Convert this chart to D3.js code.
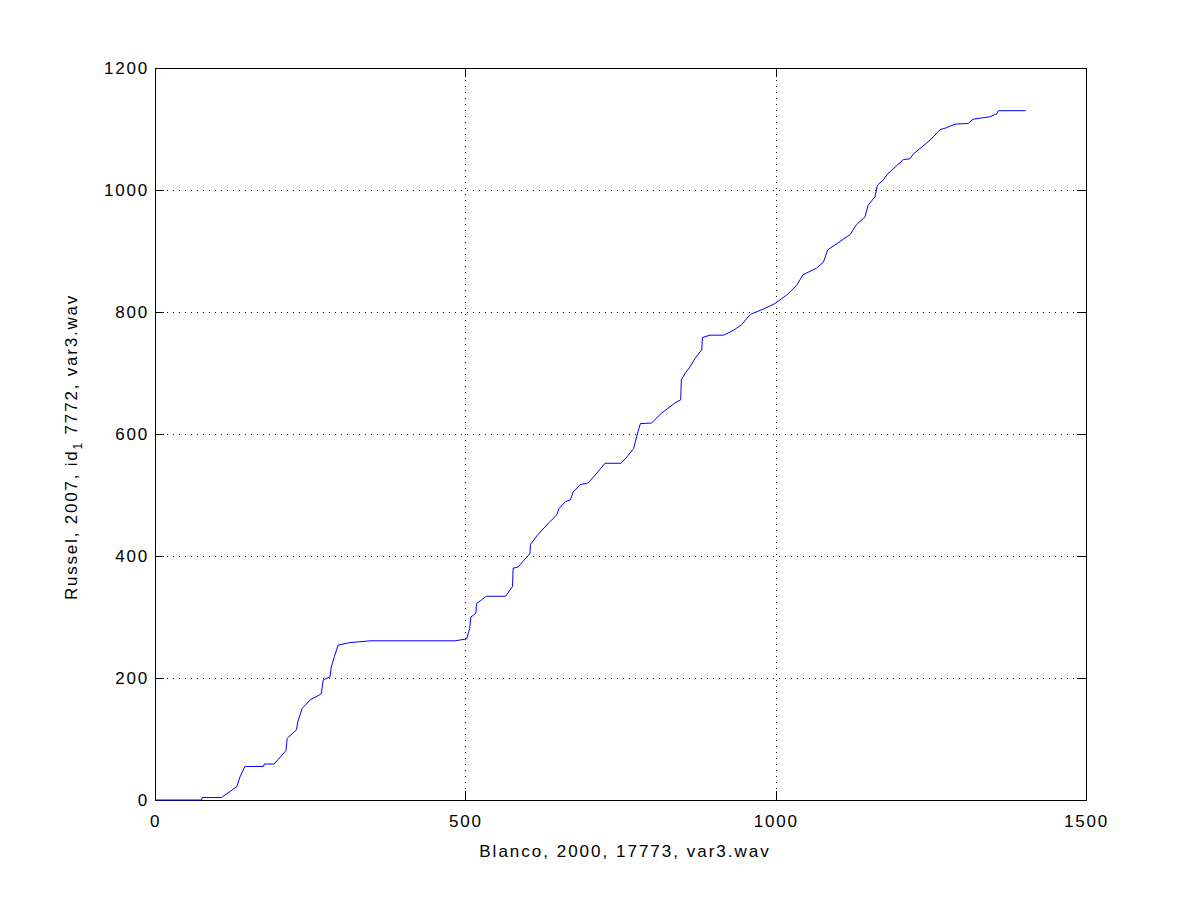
<!DOCTYPE html>
<html lang="en">
  <head>
    <meta charset="utf-8">
    <title>Blanco vs Russel alignment</title>
    <script src="https://d3js.org/d3.v7.min.js"></script>
    <style>
      body { margin: 0; background: #fff; }
      text { font-family: "Liberation Sans", Arial, sans-serif; font-size: 17px; fill: #000; letter-spacing: 1.8px; }
    </style>
  </head>
  <body>
    <svg id="chart"></svg>
    <script>
      // 1) data
      let xTicks = [0, 500, 1000, 1500];
      let yTicks = [0, 200, 400, 600, 800, 1000, 1200];
      let blanco = [0, 75, 76, 107, 132, 137, 145, 175, 176, 192, 211, 213, 228, 230, 237, 250, 268, 271, 282, 284,
                    289, 295, 314, 348, 483, 502, 507, 509, 517, 518, 526, 534, 565, 576, 577, 585, 604, 605, 616, 634,
                    647, 651, 661, 669, 674, 685, 698, 712, 725, 751, 760, 771, 776, 782, 800, 816, 838, 847, 848, 854,
                    862, 870, 881, 882, 894, 916, 932, 945, 959, 983, 999, 1018, 1034, 1044, 1066, 1077, 1084, 1120, 1130, 1144,
                    1149, 1160, 1164, 1173, 1181, 1206, 1216, 1222, 1249, 1265, 1275, 1289, 1310, 1318, 1345, 1356, 1359, 1403];
      let russel = [0, 0, 4, 4, 22, 38, 55, 55, 59, 59, 81, 101, 115, 128, 150, 164, 174, 197, 202, 218,
                    235, 254, 258, 261, 261, 264, 281, 300, 306, 322, 328, 334, 334, 350, 380, 382, 404, 419, 434, 454,
                    467, 478, 489, 492, 505, 517, 520, 536, 552, 552, 562, 576, 596, 617, 618, 634, 651, 656, 689, 699,
                    710, 724, 738, 758, 762, 762, 770, 779, 796, 806, 814, 828, 844, 861, 872, 882, 902, 927, 943, 956,
                    975, 989, 1008, 1016, 1027, 1050, 1051, 1059, 1082, 1099, 1102, 1108, 1109, 1116, 1120, 1125, 1130, 1130];

      // 2) sizes
      let W = 1200, H = 900;
      let boxL = 155, boxR = 1086, boxT = 68, boxB = 800, tick = 9;

      let svg = d3.select("#chart").attr("width", W).attr("height", H);

      // 3) scales
      let x = d3.scaleLinear().domain([0, 1500]).range([boxL, boxR]);
      let y = d3.scaleLinear().domain([0, 1200]).range([boxB, boxT]);

      // 4) dotted grid
      svg.append("g").selectAll("line")
         .data(xTicks.slice(1, -1)).enter().append("line")
         .attr("x1", d => Math.round(x(d)) + 0.5).attr("x2", d => Math.round(x(d)) + 0.5)
         .attr("y1", boxT).attr("y2", boxB)
         .attr("stroke", "#000").attr("stroke-dasharray", "1,5");
      svg.append("g").selectAll("line")
         .data(yTicks.slice(1, -1)).enter().append("line")
         .attr("y1", d => Math.round(y(d)) + 0.5).attr("y2", d => Math.round(y(d)) + 0.5)
         .attr("x1", boxL).attr("x2", boxR)
         .attr("stroke", "#000").attr("stroke-dasharray", "1,5");

      // 5) axes, ticks pointing inward like matlab
      function clean(g) {
        g.select(".domain").remove();
        g.selectAll("line").attr("stroke", "#000").attr("shape-rendering", "crispEdges");
        g.selectAll("text").attr("font-family", null).attr("font-size", null);
      }
      svg.append("g").attr("transform", "translate(0," + boxB + ")")
         .call(d3.axisBottom(x).tickValues(xTicks).tickSizeInner(-tick).tickSizeOuter(0).tickPadding(15).tickFormat(d3.format("d")))
         .call(clean);
      svg.append("g").attr("transform", "translate(0," + boxT + ")")
         .call(d3.axisTop(x).tickValues(xTicks).tickSizeInner(-tick).tickSizeOuter(0).tickFormat(""))
         .call(clean);
      svg.append("g").attr("transform", "translate(" + boxL + ",0)")
         .call(d3.axisLeft(y).tickValues(yTicks).tickSizeInner(-tick).tickSizeOuter(0).tickPadding(6).tickFormat(d3.format("d")))
         .call(clean);
      svg.append("g").attr("transform", "translate(" + boxR + ",0)")
         .call(d3.axisRight(y).tickValues(yTicks).tickSizeInner(-tick).tickSizeOuter(0).tickFormat(""))
         .call(clean);

      // box
      svg.append("rect")
         .attr("x", boxL + 0.5).attr("y", boxT + 0.5)
         .attr("width", boxR - boxL).attr("height", boxB - boxT)
         .attr("fill", "none").attr("stroke", "#000");

      // 6) the path
      let pts = blanco.map((d, i) => [d, russel[i]]);
      let line = d3.line().x(d => x(d[0])).y(d => y(d[1]));
      svg.append("path")
         .datum(pts)
         .attr("d", line)
         .attr("fill", "none")
         .attr("stroke", "#0000ff")
         .attr("stroke-width", 1);

      // 7) labels
      svg.append("text")
         .attr("x", 625).attr("y", 857)
         .attr("text-anchor", "middle")
         .style("letter-spacing", "2px")
         .text("Blanco, 2000, 17773, var3.wav");

      let yl = svg.append("text")
         .attr("transform", "translate(77,447) rotate(-90)")
         .attr("text-anchor", "middle");
      yl.append("tspan").text("Russel, 2007, id");
      yl.append("tspan").attr("dy", 5).style("font-size", "12px").text("1");
      yl.append("tspan").attr("dy", -5).text(" 7772, var3.wav");
    </script>
  </body>
</html>
